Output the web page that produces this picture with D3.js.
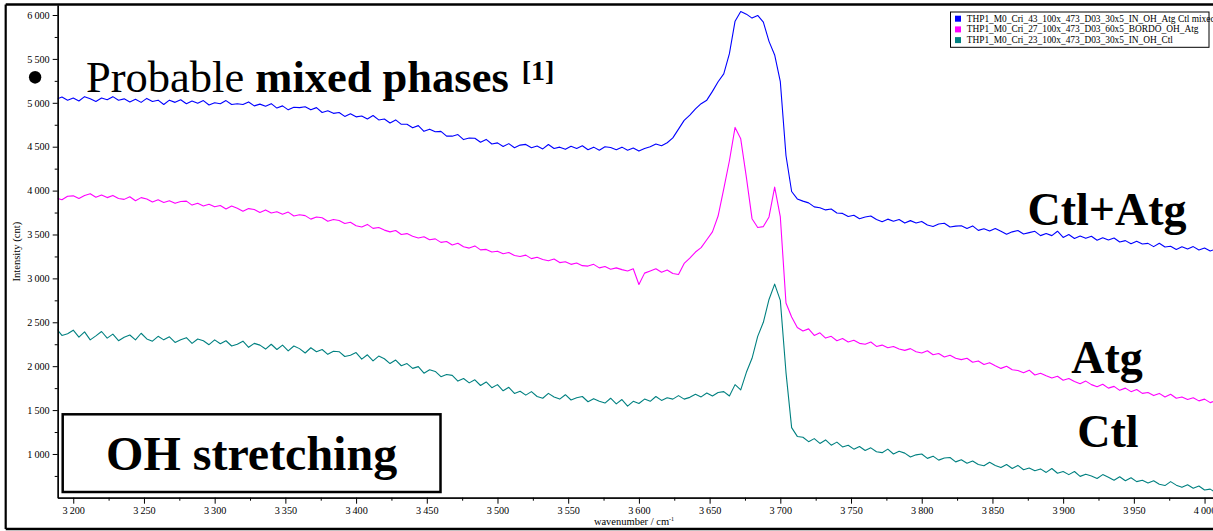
<!DOCTYPE html>
<html>
<head>
<meta charset="utf-8">
<script src="https://cdn.jsdelivr.net/npm/d3@7"></script>
<style>
  body { margin: 0; background: #fff; }
  svg { display: block; font-family: "Liberation Serif", "Times New Roman", serif; }
</style>
</head>
<body>
<div id="chart"></div>
<script>
// spectra are sampled on a regular wavenumber grid (cm-1)
const wnStart = 3188, wnStep = 4;

const seriesNames = [
  "THP1_M0_Cri_43_100x_473_D03_30x5_IN_OH_Atg Ctl mixed",
  "THP1_M0_Cri_27_100x_473_D03_60x5_BORDO_OH_Atg",
  "THP1_M0_Cri_23_100x_473_D03_30x5_IN_OH_Ctl"
];
const seriesColors = ["#0000ff", "#ff00ff", "#008080"];

// Ctl+Atg (blue), one row = 40 cm-1
const ctlAtg = [
  5040, 5065, 5030, 5055, 5020, 5070, 5045, 5015, 5055, 5035, // 3188
  5070, 5030, 5045, 5010, 5040, 5005, 5050, 5015, 5030, 4980, // 3228
  5030, 5005, 5035, 4990, 5020, 4995, 5025, 4975, 5000, 4990, // 3268
  5025, 4980, 4990, 4980, 5010, 4965, 4985, 4960, 4990, 4940, // 3308
  4965, 4920, 4950, 4945, 4955, 4920, 4945, 4890, 4910, 4880, // 3348
  4890, 4845, 4875, 4840, 4850, 4815, 4855, 4805, 4815, 4770, // 3388
  4805, 4755, 4755, 4715, 4740, 4675, 4700, 4670, 4675, 4620, // 3428
  4620, 4638, 4581, 4599, 4597, 4550, 4583, 4531, 4544, 4502, // 3468
  4535, 4488, 4518, 4526, 4489, 4507, 4475, 4525, 4480, 4495, // 3508
  4470, 4505, 4480, 4510, 4465, 4495, 4460, 4500, 4490, 4465, // 3548
  4495, 4460, 4485, 4450, 4480, 4500, 4530, 4510, 4545, 4600, // 3588
  4700, 4800, 4860, 4930, 4990, 5030, 5130, 5240, 5330, 5560, // 3628
  5930, 6040, 6010, 5965, 5995, 5920, 5700, 5545, 5240, 4400, // 3668
  3990, 3905, 3880, 3860, 3815, 3805, 3780, 3790, 3745, 3740, // 3708
  3705, 3720, 3680, 3700, 3710, 3670, 3645, 3675, 3650, 3670, // 3748
  3630, 3658, 3631, 3649, 3608, 3591, 3619, 3628, 3586, 3595, // 3788
  3600, 3569, 3598, 3547, 3566, 3540, 3569, 3538, 3502, 3530, // 3828
  3545, 3506, 3521, 3536, 3487, 3512, 3487, 3537, 3467, 3500, // 3868
  3455, 3483, 3456, 3480, 3434, 3463, 3437, 3460, 3414, 3430, // 3908
  3395, 3423, 3391, 3399, 3362, 3400, 3358, 3366, 3330, 3360, // 3948
  3335, 3362, 3324, 3346, 3312, 3335                          // 3988
];

// Atg (magenta)
const atg = [
  3915, 3895, 3935, 3940, 3910, 3945, 3965, 3925, 3950, 3920,
  3945, 3910, 3900, 3930, 3885, 3920, 3905, 3870, 3895, 3865,
  3885, 3855, 3875, 3880, 3835, 3855, 3825, 3845, 3815, 3830,
  3790, 3825, 3800, 3765, 3795, 3785, 3750, 3780, 3745, 3760,
  3730, 3755, 3710, 3725, 3715, 3675, 3700, 3690, 3650, 3670,
  3660, 3625, 3640, 3600, 3585, 3615, 3570, 3580, 3550, 3530,
  3545, 3500, 3510, 3480, 3460, 3475, 3440, 3450, 3410, 3420,
  3380, 3400, 3360, 3345, 3370, 3325, 3330, 3300, 3310, 3280,
  3295, 3260, 3250, 3265, 3225, 3240, 3215, 3200, 3220, 3180,
  3190, 3160, 3175, 3145, 3140, 3160, 3120, 3135, 3105, 3120,
  3100, 3085, 3110, 2930, 3060, 3085, 3110, 3070, 3095, 3055,
  3045, 3170, 3230, 3300, 3350, 3440, 3530, 3710, 4020, 4340,
  4720, 4590, 4150, 3680, 3580, 3590, 3700, 4040, 3700, 2720,
  2560, 2440, 2400, 2425, 2350, 2380, 2320, 2340, 2290, 2315,
  2275, 2295, 2260, 2250, 2275, 2225, 2240, 2210, 2225, 2195,
  2180, 2200, 2165, 2150, 2175, 2130, 2145, 2105, 2125, 2090,
  2075, 2090, 2045, 2060, 2020, 2040, 2005, 1975, 2000, 1960,
  1950, 1925, 1955, 1900, 1920, 1890, 1865, 1885, 1840, 1860,
  1825, 1800, 1830, 1790, 1765, 1795, 1750, 1770, 1725, 1750,
  1710, 1735, 1690, 1700, 1665, 1690, 1650, 1680, 1635, 1650,
  1620, 1640, 1605, 1625, 1585, 1610
];

// Ctl (teal)
const ctl = [
  2430, 2350, 2370, 2410, 2330, 2390, 2300, 2345, 2395, 2320,
  2365, 2290, 2330, 2355, 2300, 2375, 2310, 2285, 2340, 2300,
  2335, 2270, 2300, 2325, 2260, 2310, 2290, 2245, 2300, 2255,
  2290, 2230, 2250, 2285, 2215, 2260, 2240, 2195, 2250, 2190,
  2240, 2175, 2230, 2200, 2150, 2210, 2165, 2190, 2135, 2170,
  2165, 2110, 2125, 2155, 2080, 2130, 2060, 2115, 2085, 2030,
  2070, 2005, 2030, 1975, 1995, 1920, 1960, 1940, 1880, 1905,
  1895, 1830, 1860, 1810, 1845, 1780, 1820, 1755, 1790, 1720,
  1760, 1690, 1715, 1670, 1710, 1655, 1635, 1690, 1650, 1625,
  1675, 1615, 1640, 1655, 1595, 1630, 1600, 1580, 1635, 1570,
  1620, 1545, 1600, 1575, 1625, 1600, 1655, 1610, 1640, 1625,
  1665, 1625, 1645, 1680, 1650, 1695, 1660, 1700, 1710, 1660,
  1790, 1730, 1930, 2090, 2340, 2500, 2760, 2935, 2750, 1930,
  1300, 1200, 1190, 1140, 1175, 1120, 1160, 1100, 1135, 1080,
  1100, 1055, 1085, 1040, 1070, 1025, 1015, 1055, 1000, 1030,
  1010, 965, 990, 1000, 950, 975, 930, 955, 960, 910,
  935, 895, 920, 880, 865, 905, 870, 845, 880, 835,
  870, 820, 840, 810, 830, 790, 835, 780, 800, 765,
  800, 745, 770, 750, 720, 765, 735, 700, 740, 695,
  730, 685, 700, 670, 695, 655, 640, 685, 645, 620,
  650, 610, 635, 590, 600, 560
];

const xMajor = [3200, 3250, 3300, 3350, 3400, 3450, 3500, 3550, 3600, 3650, 3700, 3750, 3800, 3850, 3900, 3950, 4000];
const xMinor = [3225, 3275, 3325, 3375, 3425, 3475, 3525, 3575, 3625, 3675, 3725, 3775, 3825, 3875, 3925, 3975];
const yMajor = [1000, 1500, 2000, 2500, 3000, 3500, 4000, 4500, 5000, 5500, 6000];
const yMinor = [750, 1250, 1750, 2250, 2750, 3250, 3750, 4250, 4750, 5250, 5750];

const width = 1213, height = 531;
const plotLeft = 57.7, plotTop = 5, plotBottom = 497.7, plotRight = 1218.7;

const svg = d3.select("#chart").append("svg")
    .attr("width", width)
    .attr("height", height);

let x = d3.scaleLinear().domain([3189, 4010]).range([plotLeft, plotRight]);
let y = d3.scaleLinear().domain([502, 6114]).range([plotBottom, plotTop]);

// "3 200" style thousands
const fmt = d => d >= 1000 ? Math.floor(d / 1000) + "\u2009" + String(d % 1000).padStart(3, "0") : String(d);

//outer frame
svg.append("line").attr("x1", 5.7).attr("x2", width).attr("y1", 4.5).attr("y2", 4.5)
    .attr("stroke", "#000").attr("stroke-width", 2.6);
svg.append("line").attr("x1", 5.7).attr("x2", 5.7).attr("y1", 4.5).attr("y2", 529)
    .attr("stroke", "#000").attr("stroke-width", 2.2);
svg.append("line").attr("x1", 5.7).attr("x2", width).attr("y1", 529).attr("y2", 529)
    .attr("stroke", "#000").attr("stroke-width", 2.6);

svg.append("clipPath").attr("id", "plot")
    .append("rect").attr("x", plotLeft).attr("y", plotTop)
    .attr("width", plotRight - plotLeft).attr("height", plotBottom - plotTop);

//spectra
const line = d3.line()
    .x((d, i) => x(wnStart + i * wnStep))
    .y(d => y(d));

const g = svg.append("g").attr("clip-path", "url(#plot)");
[ctlAtg, atg, ctl].forEach((s, k) => {
    g.append("path")
        .attr("d", line(s))
        .attr("fill", "none")
        .attr("stroke", seriesColors[k])
        .attr("stroke-width", 1.1)
        .attr("stroke-linejoin", "round");
});

//axes
function styleAxis(sel) {
    sel.attr("font-family", "Liberation Serif, serif").attr("font-size", 10.2);
    sel.selectAll("path.domain").attr("stroke", "#000").attr("stroke-width", 1.3);
    sel.selectAll(".tick line").attr("stroke", "#000").attr("stroke-width", 1);
    sel.selectAll(".tick text").attr("fill", "#000");
}

svg.append("g").attr("transform", `translate(0,${plotBottom})`)
    .call(d3.axisBottom(x).tickValues(xMinor).tickSize(3).tickSizeOuter(0).tickFormat(""))
    .call(styleAxis);
svg.append("g").attr("transform", `translate(0,${plotBottom})`)
    .call(d3.axisBottom(x).tickValues(xMajor).tickSize(6).tickSizeOuter(0).tickPadding(3).tickFormat(fmt))
    .call(styleAxis);
svg.append("g").attr("transform", `translate(${plotLeft},0)`)
    .call(d3.axisLeft(y).tickValues(yMinor).tickSize(3).tickSizeOuter(0).tickFormat(""))
    .call(styleAxis);
svg.append("g").attr("transform", `translate(${plotLeft},0)`)
    .call(d3.axisLeft(y).tickValues(yMajor).tickSize(5).tickSizeOuter(0).tickPadding(3).tickFormat(fmt))
    .call(styleAxis);

//axis titles
svg.append("text")
    .attr("transform", "translate(20,251.7) rotate(-90)")
    .attr("text-anchor", "middle")
    .attr("font-size", 10.6)
    .text("Intensity (cnt)");

const xt = svg.append("text")
    .attr("x", 634).attr("y", 525)
    .attr("text-anchor", "middle")
    .attr("font-size", 10.5);
xt.append("tspan").text("wavenumber / cm");
xt.append("tspan").attr("font-size", 6).attr("dy", -4).text("-1");

//legend
const legend = svg.append("g");
legend.append("rect")
    .attr("x", 950.5).attr("y", 12).attr("width", 258.5).attr("height", 35.3)
    .attr("fill", "#fff").attr("stroke", "#000").attr("stroke-width", 1);
seriesNames.forEach((name, k) => {
    const cy = 18.7 + k * 10.7;
    legend.append("rect")
        .attr("x", 955).attr("y", cy - 3).attr("width", 6).attr("height", 6)
        .attr("fill", seriesColors[k]);
    legend.append("text")
        .attr("x", 966.7).attr("y", cy + 3)
        .attr("font-size", 9.4)
        .text(name);
});

//annotations
svg.append("text")
    .attr("x", 35).attr("y", 94.7)
    .attr("text-anchor", "middle")
    .attr("font-size", 52)
    .text("\u2022");

const title = svg.append("text")
    .attr("x", 86).attr("y", 92.3)
    .attr("font-size", 44.5);
title.append("tspan").text("Probable ");
title.append("tspan").attr("font-weight", "bold").text("mixed phases");
const titleEnd = 86 + title.node().getComputedTextLength();
svg.append("text")
    .attr("x", titleEnd + 13).attr("y", 80)
    .attr("font-size", 28).attr("font-weight", "bold")
    .text("[1]");

const phaseLabels = ["Ctl+Atg", "Atg", "Ctl"];
const phaseLabelX = [1107, 1107, 1108];
const phaseLabelY = [225, 372.7, 446.7];
phaseLabels.forEach((t, k) => {
    svg.append("text")
        .attr("x", phaseLabelX[k]).attr("y", phaseLabelY[k])
        .attr("text-anchor", "middle")
        .attr("font-size", 46).attr("font-weight", "bold")
        .text(t);
});

svg.append("rect")
    .attr("x", 62.7).attr("y", 414.3).attr("width", 377.8).attr("height", 77.7)
    .attr("fill", "#fff").attr("stroke", "#000").attr("stroke-width", 2.5);
svg.append("text")
    .attr("x", 251.6).attr("y", 470)
    .attr("text-anchor", "middle")
    .attr("font-size", 48).attr("font-weight", "bold")
    .text("OH stretching");
</script>
</body>
</html>
